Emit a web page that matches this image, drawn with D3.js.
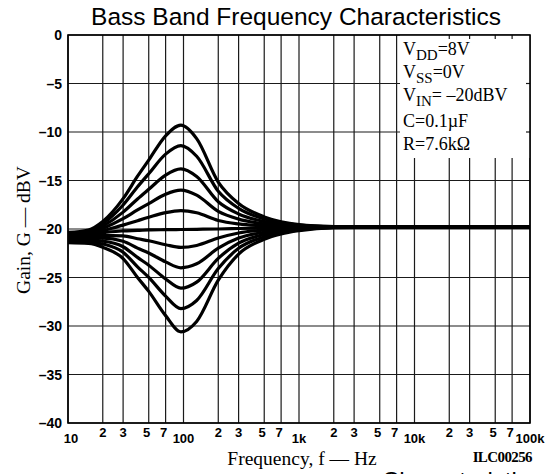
<!DOCTYPE html>
<html>
<head>
<meta charset="utf-8">
<script src="https://cdn.jsdelivr.net/npm/d3@7"></script>
<style>
  body { margin: 0; background: #fff; }
  svg { display: block; }
</style>
</head>
<body>
<svg id="chart" width="559" height="474"></svg>
<script>
const freqs = [10, 15, 20, 30, 40, 50, 70, 95, 130, 200, 300, 500, 700, 1000, 2000, 5000, 100000];

// gain (dBV) of each curve, boost steps on top, cut steps below
const boost5 = [-20.35, -20.10, -19.22, -16.87, -14.56, -12.90, -10.39, -9.30, -10.68, -15.16, -17.37, -18.75, -19.25, -19.55, -19.75, -19.80, -19.80];
const boost4 = [-20.48, -20.23, -19.45, -17.52, -15.65, -14.30, -12.28, -11.40, -12.50, -16.11, -17.87, -18.97, -19.37, -19.61, -19.76, -19.80, -19.80];
const boost3 = [-20.63, -20.38, -19.71, -18.26, -16.90, -15.91, -14.44, -13.80, -14.59, -17.19, -18.45, -19.23, -19.51, -19.67, -19.77, -19.80, -19.80];
const boost2 = [-20.76, -20.51, -19.95, -18.94, -18.04, -17.39, -16.42, -16.00, -16.51, -18.18, -18.98, -19.47, -19.64, -19.74, -19.78, -19.80, -19.80];
const boost1 = [-20.88, -20.63, -20.19, -19.60, -19.14, -18.79, -18.31, -18.10, -18.33, -19.12, -19.48, -19.69, -19.76, -19.80, -19.79, -19.80, -19.80];
const flat   = [-21.00, -20.75, -20.40, -20.20, -20.15, -20.10, -20.07, -20.05, -20.03, -20.00, -19.95, -19.90, -19.88, -19.85, -19.80, -19.80, -19.80];
const cut1   = [-21.07, -20.88, -20.66, -20.70, -21.00, -21.21, -21.62, -21.90, -21.70, -20.93, -20.41, -20.10, -19.99, -19.91, -19.81, -19.80, -19.80];
const cut2   = [-21.16, -21.03, -20.95, -21.27, -21.97, -22.47, -23.39, -24.00, -23.59, -21.98, -20.94, -20.33, -20.12, -19.97, -19.82, -19.80, -19.80];
const cut3   = [-21.24, -21.17, -21.25, -21.83, -22.93, -23.73, -25.15, -26.10, -25.48, -23.03, -21.46, -20.57, -20.24, -20.03, -19.83, -19.80, -19.80];
const cut4   = [-21.33, -21.32, -21.54, -22.40, -23.90, -24.99, -26.92, -28.20, -27.37, -24.08, -21.99, -20.80, -20.37, -20.09, -19.84, -19.80, -19.80];
const cut5   = [-21.42, -21.49, -21.88, -23.05, -25.00, -26.43, -28.93, -30.60, -29.53, -25.28, -22.59, -21.06, -20.51, -20.17, -19.85, -19.80, -19.80];

const series = [boost5, boost4, boost3, boost2, boost1, flat, cut1, cut2, cut3, cut4, cut5];

// axis ticks
const yTicks = [0, -5, -10, -15, -20, -25, -30, -35, -40];
const decades = [10, 100, 1000, 10000];
const minorSteps = [2, 3, 5, 7];
const majorTicks = [10, 100, 1000, 10000, 100000];
const majorLabels = ["10", "100", "1k", "10k", "100k"];

// conditions box
const notes = [
  ["V", "DD", "=8V"],
  ["V", "SS", "=0V"],
  ["V", "IN", "= \u201320dBV"],
  ["C=0.1\u00b5F", "", ""],
  ["R=7.6k\u03a9", "", ""],
];

const plotLeft = 68, plotRight = 530, plotTop = 35, plotBottom = 423;

const svg = d3.select("#chart");

const x = d3.scaleLog().domain([10, 100000]).range([plotLeft, plotRight]);
const y = d3.scaleLinear().domain([-40, 0]).range([plotBottom, plotTop]);

// grid frequencies: 1,2,3,5,7 in every decade
const gridFreqs = [];
decades.forEach((d) => {
  gridFreqs.push(d);
  minorSteps.forEach((m) => gridFreqs.push(d * m));
});
gridFreqs.push(100000);

const grid = svg.append("g").attr("stroke", "#1a1a1a").attr("stroke-width", 1.2);

grid.selectAll("line.v")
  .data(gridFreqs)
  .enter()
  .append("line")
  .attr("class", "v")
  .attr("x1", (d) => x(d))
  .attr("x2", (d) => x(d))
  .attr("y1", plotTop)
  .attr("y2", plotBottom);

grid.selectAll("line.h")
  .data(yTicks)
  .enter()
  .append("line")
  .attr("class", "h")
  .attr("x1", plotLeft)
  .attr("x2", plotRight)
  .attr("y1", (d) => y(d))
  .attr("y2", (d) => y(d));

// white box for the test conditions, covering the grid
const boxX = 400, boxBottom = 158;
svg.append("rect")
  .attr("x", boxX)
  .attr("y", plotTop)
  .attr("width", plotRight - boxX)
  .attr("height", boxBottom - plotTop)
  .attr("fill", "#fff");

// little tick stubs that remain on the frame inside the box
const stubs = svg.append("g").attr("stroke", "#1a1a1a").attr("stroke-width", 1.2);
[20000, 30000, 50000, 70000].forEach((f) => {
  stubs.append("line").attr("x1", x(f)).attr("x2", x(f)).attr("y1", plotTop).attr("y2", plotTop + 4);
});
[-5, -10].forEach((v) => {
  stubs.append("line").attr("x1", plotRight - 4).attr("x2", plotRight).attr("y1", y(v)).attr("y2", y(v));
});

// frame
svg.append("rect")
  .attr("x", plotLeft)
  .attr("y", plotTop)
  .attr("width", plotRight - plotLeft)
  .attr("height", plotBottom - plotTop)
  .attr("fill", "none")
  .attr("stroke", "#000")
  .attr("stroke-width", 1.6);

// curves
const line = d3.line()
  .x((d, i) => x(freqs[i]))
  .y((d) => y(d))
  .curve(d3.curveMonotoneX);

svg.append("g")
  .selectAll("path")
  .data(series)
  .enter()
  .append("path")
  .attr("d", line)
  .attr("fill", "none")
  .attr("stroke", "#000")
  .attr("stroke-width", 3.2)
  .attr("stroke-linejoin", "round");

// y tick labels
svg.append("g")
  .selectAll("text")
  .data(yTicks)
  .enter()
  .append("text")
  .attr("x", 62)
  .attr("y", (d) => y(d) + 5)
  .attr("text-anchor", "end")
  .style("font", "bold 14px 'Liberation Sans', Arial, sans-serif")
  .text((d) => (d === 0 ? "0" : "\u2013" + Math.abs(d)));

// x tick labels
const xl = svg.append("g").style("font", "bold 13px 'Liberation Sans', Arial, sans-serif").attr("fill", "#000");
decades.forEach((d) => {
  minorSteps.forEach((m) => {
    xl.append("text")
      .attr("x", x(d * m) + (m >= 5 ? -2 : 0))
      .attr("y", 437)
      .attr("text-anchor", "middle")
      .text(m);
  });
});
majorTicks.forEach((f, i) => {
  xl.append("text")
    .attr("x", x(f) + (i === 0 ? 3 : 0))
    .attr("y", 443)
    .attr("text-anchor", "middle")
    .text(majorLabels[i]);
});

// titles
svg.append("text")
  .attr("x", 296)
  .attr("y", 25)
  .attr("text-anchor", "middle")
  .style("font", "24.5px 'Liberation Sans', Arial, sans-serif")
  .text("Bass Band Frequency Characteristics");

svg.append("text")
  .attr("x", 302)
  .attr("y", 465)
  .attr("text-anchor", "middle")
  .style("font", "19.5px 'Liberation Serif', 'Times New Roman', serif")
  .text("Frequency, f \u2014 Hz");

svg.append("text")
  .attr("transform", "translate(30,230) rotate(-90)")
  .attr("text-anchor", "middle")
  .style("font", "19.5px 'Liberation Serif', 'Times New Roman', serif")
  .text("Gain, G \u2014 dBV");

svg.append("text")
  .attr("x", 532)
  .attr("y", 462)
  .attr("text-anchor", "end")
  .style("font", "bold 15px 'Liberation Serif', 'Times New Roman', serif")
  .style("letter-spacing", "-0.6px")
  .text("ILC00256");

// top of the next figure's title, cut off by the page edge as in the scan
svg.append("text")
  .attr("x", 382)
  .attr("y", 489)
  .style("font", "24px 'Liberation Sans', Arial, sans-serif")
  .text("Characteristics");

// test conditions
const noteY = [55, 78, 101, 127, 150];
notes.forEach((n, i) => {
  const t = svg.append("text")
    .attr("x", 403)
    .attr("y", noteY[i])
    .style("font", "18px 'Liberation Serif', 'Times New Roman', serif");
  t.append("tspan").text(n[0]);
  if (n[1]) {
    t.append("tspan").attr("dy", 5).style("font-size", "15px").text(n[1]);
    t.append("tspan").attr("dy", -5).text(n[2]);
  }
});
</script>
</body>
</html>
